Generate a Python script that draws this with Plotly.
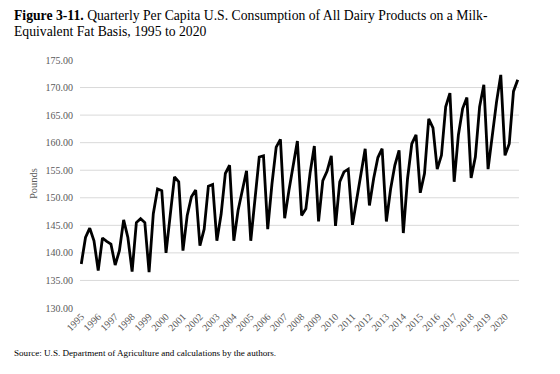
import plotly.graph_objects as go

years = list(range(1995, 2021))
quarters = ["Q1", "Q2", "Q3", "Q4"]

consumption = [
    138.0, 142.8, 144.5, 142.2,   # 1995
    136.8, 142.7, 142.1, 141.6,   # 1996
    137.8, 140.4, 146.0, 142.8,   # 1997
    136.6, 145.5, 146.2, 145.5,   # 1998
    136.5, 147.1, 151.6, 151.3,   # 1999
    140.0, 147.1, 153.8, 152.9,   # 2000
    140.4, 146.8, 150.2, 151.4,   # 2001
    141.3, 144.3, 152.1, 152.4,   # 2002
    142.2, 147.0, 154.4, 155.9,   # 2003
    142.2, 147.7, 151.3, 154.9,   # 2004
    142.2, 150.0, 157.4, 157.6,   # 2005
    144.3, 152.5, 159.2, 160.6,   # 2006
    146.3, 151.3, 156.0, 160.3,   # 2007
    146.8, 148.0, 154.5, 159.4,   # 2008
    145.7, 153.1, 154.8, 157.6,   # 2009
    144.9, 152.9, 154.7, 155.2,   # 2010
    145.1, 149.5, 154.3, 158.9,   # 2011
    148.6, 153.5, 157.3, 158.9,   # 2012
    145.7, 151.6, 155.9, 158.6,   # 2013
    143.6, 153.5, 159.8, 161.4,   # 2014
    150.9, 154.4, 164.3, 162.7,   # 2015
    155.2, 157.7, 166.5, 169.0,   # 2016
    152.9, 161.4, 166.2, 168.2,   # 2017
    153.6, 157.4, 166.5, 170.5,   # 2018
    155.2, 161.7, 167.4, 172.3,   # 2019
    157.7, 159.8, 169.3, 171.4,   # 2020
]

y_ticks = [130, 135, 140, 145, 150, 155, 160, 165, 170, 175]
grid_values = [135, 140, 145, 150, 155, 160, 165, 170]

x_index = list(range(len(consumption)))
labels = [f"{y} {q}" for y in years for q in quarters]
year_tick_pos = [i * 4 for i in range(len(years))]
year_tick_text = [str(y) for y in years]

FONT = "Liberation Serif"
GREY = "#595959"

# page body has an 8px default margin, so the figure is drawn 8px in from the corner
OFF = 8
W, H = 560 - OFF, 374 - OFF
L, R, T, B = 80 - OFF, 41, 60 - OFF, 66
PW, PH = W - L - R, H - T - B


def px_x(x):
    return (x - OFF - L) / PW


def px_y(y):
    return (H - B - (y - OFF)) / PH


fig = go.Figure()
fig.add_trace(go.Scatter(
    x=x_index, y=consumption, mode="lines",
    line=dict(color="black", width=2.8),
    text=labels, hoverinfo="text+y", showlegend=False,
))

shapes = []
for g in grid_values:
    shapes.append(dict(type="line", xref="paper", yref="y", x0=0, x1=1, y0=g, y1=g,
                       line=dict(color="#d9d9d9", width=1), layer="below"))

annotations = [
    dict(text="<b>Figure 3-11.</b> Quarterly Per Capita U.S. Consumption of All Dairy Products on a Milk-",
         xref="paper", yref="paper", x=px_x(12), y=px_y(16), xanchor="left", yanchor="middle",
         showarrow=False, font=dict(family=FONT, size=13.7, color="black")),
    dict(text="Equivalent Fat Basis, 1995 to 2020",
         xref="paper", yref="paper", x=px_x(12), y=px_y(31), xanchor="left", yanchor="middle",
         showarrow=False, font=dict(family=FONT, size=13.7, color="black")),
    dict(text="Pounds", textangle=-90,
         xref="paper", yref="paper", x=px_x(33), y=px_y(184), xanchor="center", yanchor="middle",
         showarrow=False, font=dict(family=FONT, size=10.5, color=GREY)),
    dict(text="Source: U.S. Department of Agriculture and calculations by the authors.",
         xref="paper", yref="paper", x=px_x(12), y=px_y(353), xanchor="left", yanchor="middle",
         showarrow=False, font=dict(family=FONT, size=9.1, color="black")),
]

fig.update_layout(
    width=W, height=H,
    margin=dict(l=L, r=R, t=T, b=B, autoexpand=False),
    paper_bgcolor="white", plot_bgcolor="white",
    font=dict(family=FONT, color=GREY, size=10),
    shapes=shapes,
    annotations=annotations,
    xaxis=dict(
        range=[-0.3, len(consumption) - 1 + 0.3],
        tickmode="array", tickvals=year_tick_pos, ticktext=year_tick_text,
        tickangle=-45, showgrid=False, zeroline=False, showline=False,
        ticks="", tickfont=dict(size=10, color=GREY, family=FONT),
        automargin=False,
    ),
    yaxis=dict(
        range=[130, 175], tickmode="array", tickvals=y_ticks,
        tickformat=".2f", showgrid=False, zeroline=False, showline=False,
        ticks="", ticklabelstandoff=6, tickfont=dict(size=10, color=GREY, family=FONT),
        automargin=False,
    ),
)

fig.write_html("out.html")
